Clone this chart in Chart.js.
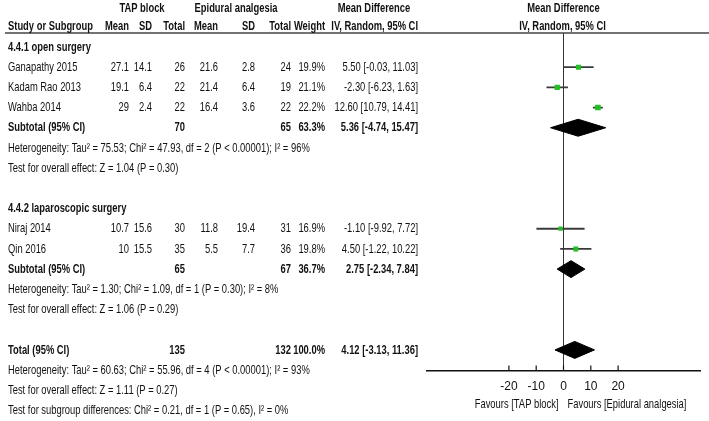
<!DOCTYPE html>
<html>
<head>
<meta charset="utf-8">
<script src="https://cdn.jsdelivr.net/npm/chart.js@4.4.1/dist/chart.umd.min.js"></script>
<style>html,body{margin:0;padding:0;background:#fff}</style>
</head>
<body>
<canvas id="chart" width="709" height="421"></canvas>
<script>
// study level data
var studies = ['Ganapathy 2015', 'Kadam Rao 2013', 'Wahba 2014', 'Niraj 2014', 'Qin 2016'];
var studyGroup = [0, 0, 0, 1, 1];
var tapMean = [27.1, 19.1, 29, 10.7, 10];
var tapSD = [14.1, 6.4, 2.4, 15.6, 15.5];
var tapN = [26, 22, 22, 30, 35];
var epiMean = [21.6, 21.4, 16.4, 11.8, 5.5];
var epiSD = [2.8, 6.4, 3.6, 19.4, 7.7];
var epiN = [24, 19, 22, 31, 36];
var weights = [19.9, 21.1, 22.2, 16.9, 19.8];
var md = [5.50, -2.30, 12.60, -1.10, 4.50];
var ciLow = [-0.03, -6.23, 10.79, -9.92, -1.22];
var ciHigh = [11.03, 1.63, 14.41, 7.72, 10.22];

// subgroups + overall
var groupTitles = ['4.4.1 open surgery', '4.4.2 laparoscopic surgery'];
var pooledTapN = [70, 65, 135];
var pooledEpiN = [65, 67, 132];
var pooledWeight = [63.3, 36.7, 100.0];
var pooledMD = [5.36, 2.75, 4.12];
var pooledLow = [-4.74, -2.34, -3.13];
var pooledHigh = [15.47, 7.84, 11.36];
var groupHet = ['Heterogeneity: Tau\u00b2 = 75.53; Chi\u00b2 = 47.93, df = 2 (P < 0.00001); I\u00b2 = 96%',
                'Heterogeneity: Tau\u00b2 = 1.30; Chi\u00b2 = 1.09, df = 1 (P = 0.30); I\u00b2 = 8%'];
var groupEffect = ['Test for overall effect: Z = 1.04 (P = 0.30)',
                   'Test for overall effect: Z = 1.06 (P = 0.29)'];
var totalNotes = ['Heterogeneity: Tau\u00b2 = 60.63; Chi\u00b2 = 55.96, df = 4 (P < 0.00001); I\u00b2 = 93%',
                  'Test for overall effect: Z = 1.11 (P = 0.27)',
                  'Test for subgroup differences: Chi\u00b2 = 0.21, df = 1 (P = 0.65), I\u00b2 = 0%'];
var xTicks = [-20, -10, 0, 10, 20];

// work out which row everything goes on
var rows = [];
var studyRow = [], pooledRow = [];
var r = 1;
for (var g = 0; g < groupTitles.length; g++) {
  rows.push({kind: 'title', idx: g, row: r++});
  for (var i = 0; i < studies.length; i++) {
    if (studyGroup[i] === g) { studyRow[i] = r; rows.push({kind: 'study', idx: i, row: r++}); }
  }
  pooledRow[g] = r; rows.push({kind: 'pooled', idx: g, row: r++});
  rows.push({kind: 'note', text: groupHet[g], row: r++});
  rows.push({kind: 'note', text: groupEffect[g], row: r++});
  r++;
}
pooledRow[2] = r; rows.push({kind: 'pooled', idx: 2, row: r++});
totalNotes.forEach(function (t) { rows.push({kind: 'note', text: t, row: r++}); });

var SX = 0.695;
var FONT = '"Liberation Sans", Arial, sans-serif';
var TXT = '#111';
function put(ctx, s, x, y, align, bold) {
  ctx.save();
  ctx.font = (bold ? 'bold ' : '') + '13.5px ' + FONT;
  ctx.fillStyle = TXT;
  ctx.textAlign = align;
  ctx.textBaseline = 'middle';
  ctx.translate(x, y);
  ctx.scale(SX, 1);
  ctx.fillText(s, 0, 0);
  ctx.restore();
}
function ci(m, lo, hi) { return m.toFixed(2) + ' [' + lo.toFixed(2) + ', ' + hi.toFixed(2) + ']'; }

var colX = [129, 152, 185, 218, 255, 291, 325, 418];

var tablePlugin = {
  id: 'table',
  afterDraw: function (chart) {
    var ctx = chart.ctx, ys = chart.scales.y, xs = chart.scales.x, area = chart.chartArea;
    var Y = function (v) { return ys.getPixelForValue(v); };

    ctx.save();
    ctx.strokeStyle = '#444';
    ctx.lineWidth = 1.6;
    ctx.beginPath(); ctx.moveTo(5, area.top); ctx.lineTo(709, area.top); ctx.stroke();
    // tick marks point up from the axis
    ctx.strokeStyle = '#111';
    ctx.lineWidth = 1.2;
    xs.ticks.forEach(function (t) {
      var px = xs.getPixelForValue(t.value);
      ctx.beginPath(); ctx.moveTo(px, area.bottom - 5); ctx.lineTo(px, area.bottom); ctx.stroke();
    });
    ctx.restore();

    // headers
    var h0 = Y(-0.93), h1 = Y(0);
    put(ctx, 'TAP block', 142, h0, 'center', true);
    put(ctx, 'Epidural analgesia', 236, h0, 'center', true);
    put(ctx, 'Mean Difference', 374, h0, 'center', true);
    var zero = xs.getPixelForValue(0);
    put(ctx, 'Mean Difference', zero, h0, 'center', true);
    put(ctx, 'IV, Random, 95% CI', zero - 1, h1, 'center', true);
    put(ctx, 'Study or Subgroup', 8, h1, 'left', true);
    var heads = ['Mean', 'SD', 'Total', 'Mean', 'SD', 'Total', 'Weight', 'IV, Random, 95% CI'];
    heads.forEach(function (s, k) { put(ctx, s, colX[k], h1, 'right', true); });

    rows.forEach(function (e) {
      var y = Y(e.row);
      if (e.kind === 'title') put(ctx, groupTitles[e.idx], 8, y, 'left', true);
      else if (e.kind === 'note') put(ctx, e.text, 8, y, 'left', false);
      else if (e.kind === 'study') {
        var i = e.idx;
        var cells = [tapMean[i], tapSD[i], tapN[i], epiMean[i], epiSD[i], epiN[i],
                     weights[i].toFixed(1) + '%', ci(md[i], ciLow[i], ciHigh[i])];
        put(ctx, studies[i], 8, y, 'left', false);
        cells.forEach(function (c, k) { put(ctx, String(c), colX[k], y, 'right', false); });
      } else if (e.kind === 'pooled') {
        var j = e.idx;
        put(ctx, j === 2 ? 'Total (95% CI)' : 'Subtotal (95% CI)', 8, y, 'left', true);
        put(ctx, String(pooledTapN[j]), colX[2], y, 'right', true);
        put(ctx, String(pooledEpiN[j]), colX[5], y, 'right', true);
        put(ctx, pooledWeight[j].toFixed(1) + '%', colX[6], y, 'right', true);
        put(ctx, ci(pooledMD[j], pooledLow[j], pooledHigh[j]), colX[7], y, 'right', true);
      }
    });

    var fy = area.bottom + 34;
    put(ctx, 'Favours [TAP block]', zero - 5, fy, 'right', false);
    put(ctx, 'Favours [Epidural analgesia]', zero + 4, fy, 'left', false);
  }
};

var datasets = [];
// CI whiskers (drawn under the squares)
studies.forEach(function (s, i) {
  datasets.push({
    type: 'line', order: 2,
    data: [{x: ciLow[i], y: studyRow[i]}, {x: ciHigh[i], y: studyRow[i]}],
    borderColor: '#3a3a3a', borderWidth: 1.8, pointRadius: 0, tension: 0
  });
});
datasets.push({
  type: 'scatter', order: 1,
  data: md.map(function (v, i) { return {x: v, y: studyRow[i]}; }),
  pointStyle: 'rect',
  pointRadius: weights.map(function (w) { return w / 5.6; }),
  backgroundColor: '#22c022', borderWidth: 0
});
var DH = 0.42;
pooledMD.forEach(function (m, j) {
  var y = pooledRow[j];
  datasets.push({
    type: 'line', order: 1,
    data: [{x: pooledLow[j], y: y}, {x: m, y: y - DH}, {x: pooledHigh[j], y: y}, {x: m, y: y + DH}, {x: pooledLow[j], y: y}],
    borderColor: '#000', backgroundColor: '#000', borderWidth: 1,
    pointRadius: 0, tension: 0, fill: 'shape'
  });
});

var ctx = document.getElementById('chart').getContext('2d');
var chart = new Chart(ctx, {
  type: 'scatter',
  data: {datasets: datasets},
  options: {
    responsive: false,
    animation: false,
    layout: {padding: {left: 427, right: 9, top: 33, bottom: 18}},
    plugins: {legend: {display: false}, tooltip: {enabled: false}},
    scales: {
      x: {
        type: 'linear', min: -50, max: 50,
        afterBuildTicks: function (scale) { scale.ticks = xTicks.map(function (v) { return {value: v}; }); },
        grid: {
          color: function (c) { return (c.tick && c.tick.value === 0) ? '#333' : 'rgba(0,0,0,0)'; },
          lineWidth: 1, drawTicks: false
        },
        border: {display: true, color: '#111', width: 1.5},
        ticks: {
          padding: 9, color: TXT,
          font: {family: '"Liberation Sans", Arial, sans-serif', size: 12}
        }
      },
      y: {
        type: 'linear', display: false, reverse: true,
        min: 0.3085, max: 17.025
      }
    }
  },
  plugins: [tablePlugin]
});
</script>
</body>
</html>
